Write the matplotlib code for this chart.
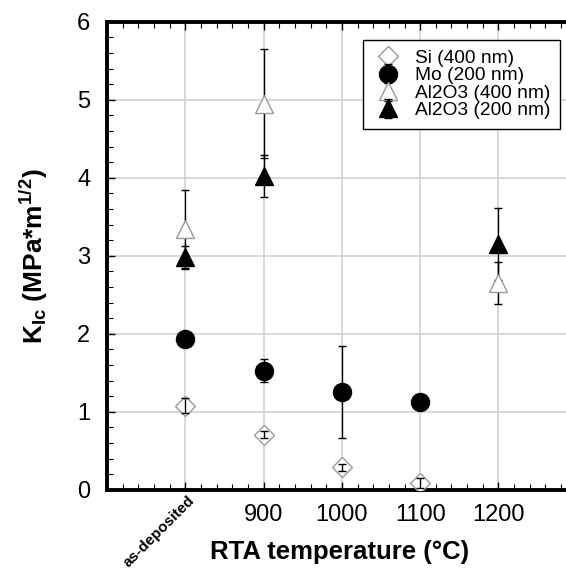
import numpy as np
import matplotlib
matplotlib.use("Agg")
import matplotlib.pyplot as plt
from matplotlib.ticker import MultipleLocator
from matplotlib.transforms import ScaledTranslation

plt.rcParams['font.family'] = ['Liberation Sans', 'DejaVu Sans']
plt.rcParams['mathtext.fontset'] = 'custom'
plt.rcParams['mathtext.rm'] = 'Liberation Sans:bold'
plt.rcParams['mathtext.it'] = 'Liberation Sans:bold'
plt.rcParams['mathtext.bf'] = 'Liberation Sans:bold'

# data ("as-deposited" sits at 800)
si_temp = [800, 900, 1000, 1100]
si_k = [1.08, 0.71, 0.29, 0.09]
si_err = [0.10, 0.05, 0.045, 0.065]

mo_temp = [800, 900, 1000, 1100]
mo_k = [1.93, 1.53, 1.25, 1.13]
mo_err = [0.08, 0.15, 0.59, 0.06]

al400_temp = [800, 900, 1200]
al400_k = [3.35, 4.95, 2.65]
al400_err = [0.50, 0.70, 0.27]

al200_temp = [800, 900, 1200]
al200_k = [2.98, 4.02, 3.15]
al200_err = [0.15, 0.27, 0.46]

tick_pos = [800, 900, 1000, 1100, 1200]
tick_labels = ['as-deposited', '900', '1000', '1100', '1200']

fig = plt.figure(figsize=(5.66, 5.75), dpi=100)
ax = fig.add_axes([0.189, 0.148, 0.830, 0.814])

grey = '#9a9a9a'
eb = dict(ecolor='black', elinewidth=1.0, capsize=3, capthick=1.0, linestyle='none')

# Si: error bars drawn over the open diamonds
ax.plot(si_temp, si_k, 'D', ms=10.5, mfc='white', mec=grey, mew=1.0,
        label='Si (400 nm)', zorder=3)
ax.errorbar(si_temp, si_k, yerr=si_err, fmt='none', zorder=4, **eb)
ax.errorbar(mo_temp, mo_k, yerr=mo_err, marker='o', ms=13, mfc='black', mec='black',
            label='Mo (200 nm)', zorder=3, **eb)
ax.errorbar(al400_temp, al400_k, yerr=al400_err, marker='^', ms=13, mfc='white', mec=grey,
            mew=1.0, label='Al2O3 (400 nm)', zorder=3, **eb)
ax.errorbar(al200_temp, al200_k, yerr=al200_err, marker='^', ms=13, mfc='black', mec='black',
            label='Al2O3 (200 nm)', zorder=3, **eb)

ax.set_xlim(700, 1300)
ax.set_ylim(0, 6)
ax.set_xticks(tick_pos)
ax.set_xticklabels(tick_labels)
ax.xaxis.set_minor_locator(MultipleLocator(20))
ax.yaxis.set_minor_locator(MultipleLocator(0.2))
ax.set_yticks(range(0, 7))
ax.grid(True, which='major', color='#d2d2d2', linewidth=1.2, zorder=0)
ax.set_axisbelow(True)

ax.tick_params(which='both', direction='in', top=True, right=True, labelsize=17)
ax.tick_params(axis='x', pad=10)
ax.tick_params(axis='y', pad=12)
ax.tick_params(which='major', length=6, width=1)
ax.tick_params(which='minor', length=4, width=0.8)
for s in ax.spines.values():
    s.set_linewidth(2.8)

lab0 = ax.get_xticklabels()[0]
lab0.set_rotation(45)
lab0.set_rotation_mode('anchor')
lab0.set_ha('right')
lab0.set_va('center')
lab0.set_fontsize(11)
lab0.set_fontweight('bold')
lab0.set_transform(lab0.get_transform() + ScaledTranslation(5 / 72, 4 / 72, fig.dpi_scale_trans))

ax.set_xlabel('RTA temperature (\u00b0C)', fontsize=18.5, fontweight='bold')
ax.xaxis.set_label_coords(0.496, -0.108)
ax.set_ylabel(r'K$_{\mathrm{Ic}}$ (MPa*m$^{\mathrm{1/2}}$)', fontsize=19,
              fontweight='bold')
ax.yaxis.set_label_coords(-0.122, 0.50)

leg = ax.legend(loc='upper left', bbox_to_anchor=(0.545, 0.9615), fontsize=13.8,
                frameon=True, fancybox=False, edgecolor='black', handletextpad=0.6,
                labelspacing=0.0, borderpad=0.5, numpoints=1, handlelength=1.6,
                borderaxespad=0, framealpha=1)
leg.get_frame().set_linewidth(1.0)

plt.savefig('out.png', dpi=100)
